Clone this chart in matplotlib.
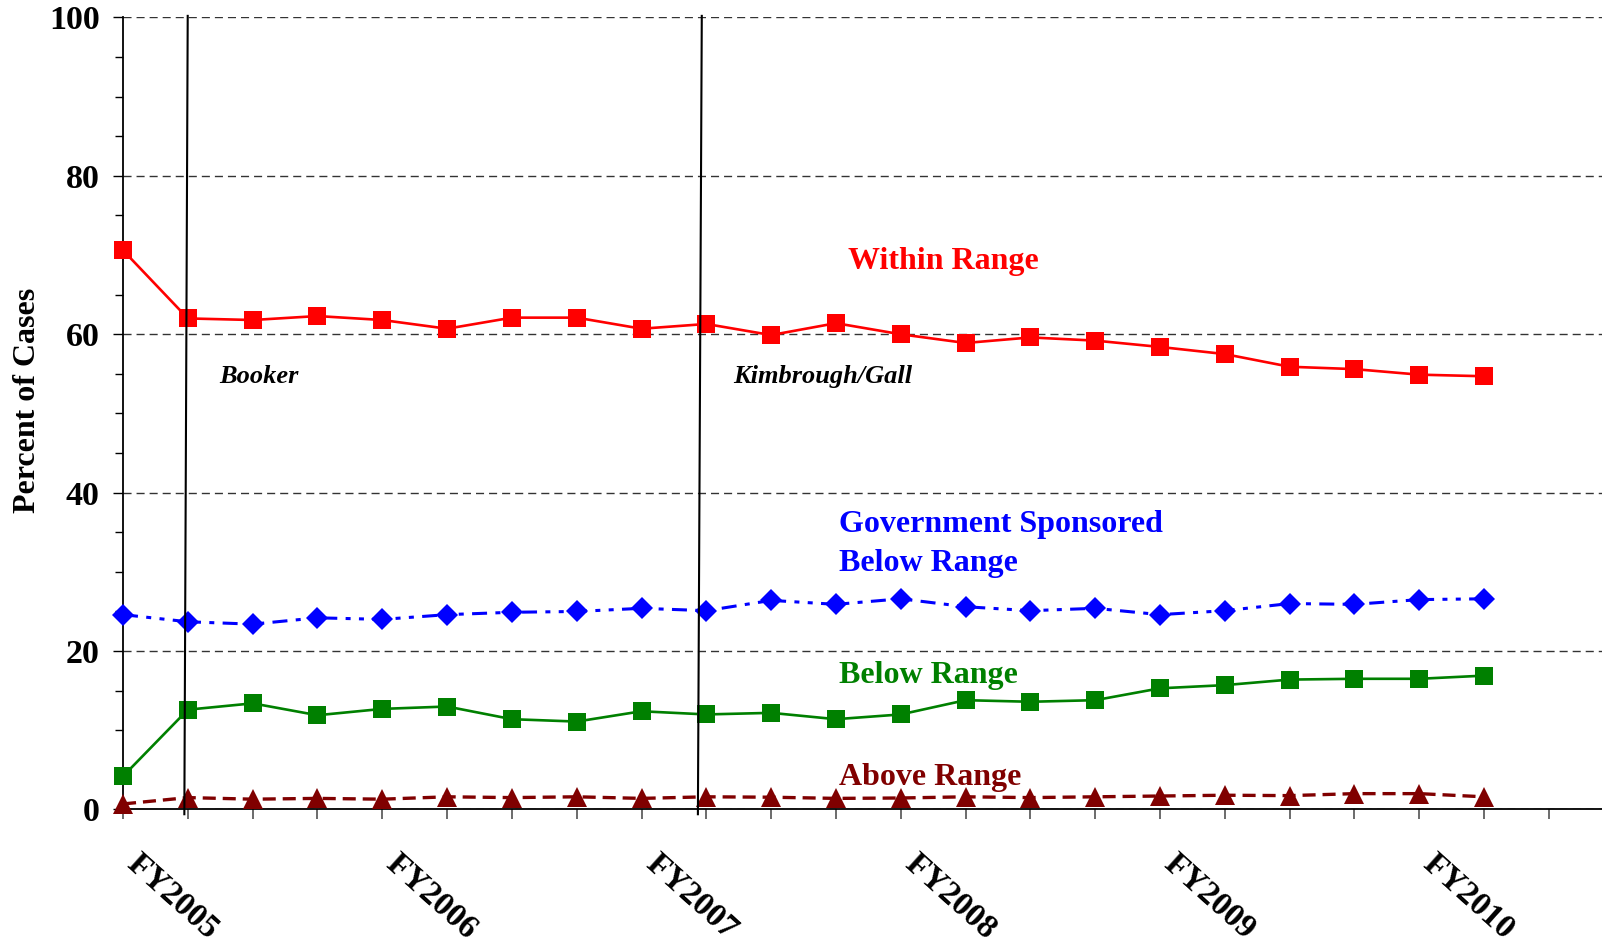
import matplotlib
matplotlib.use("Agg")
import matplotlib.pyplot as plt
import matplotlib.transforms as mtransforms
from matplotlib.ticker import MultipleLocator

# ---------------- data ----------------
tick_labels = ["FY2005", "", "", "", "FY2006", "", "", "", "FY2007", "", "", "",
               "FY2008", "", "", "", "FY2009", "", "", "", "FY2010", "", ""]
within_range = [70.6, 62.0, 61.8, 62.3, 61.8, 60.7, 62.1, 62.1, 60.7, 61.3, 59.9,
                61.4, 60.0, 58.9, 59.6, 59.2, 58.4, 57.5, 55.9, 55.6, 54.9, 54.7]
gov_below = [24.6, 23.7, 23.4, 24.2, 24.0, 24.6, 24.9, 25.0, 25.4, 25.1, 26.4,
             25.9, 26.6, 25.6, 25.1, 25.4, 24.6, 25.1, 26.0, 25.9, 26.5, 26.6]
below_range = [4.2, 12.6, 13.4, 11.9, 12.7, 13.0, 11.4, 11.1, 12.4, 12.0, 12.2,
               11.4, 12.0, 13.8, 13.6, 13.8, 15.3, 15.7, 16.4, 16.5, 16.5, 16.9]
above_range = [0.7, 1.5, 1.3, 1.4, 1.3, 1.6, 1.5, 1.6, 1.4, 1.6, 1.55,
               1.4, 1.45, 1.6, 1.5, 1.6, 1.7, 1.8, 1.75, 2.0, 2.0, 1.6]
event_names = ["Booker", "Kimbrough/Gall"]
event_x_top = [0.998, 8.93]
event_x_bottom = [0.946, 8.87]

x = list(range(len(within_range)))

plt.rcParams["font.family"] = ["Liberation Serif", "DejaVu Serif"]
plt.rcParams["lines.scale_dashes"] = False

fig = plt.figure(figsize=(16.02, 9.44), dpi=100)
ax = fig.add_axes([0.0768, 0.1425, 0.9232, 0.839])

# grid
ax.set_ylim(0, 100)
ax.set_xlim(0, 22.82)
ax.yaxis.set_major_locator(MultipleLocator(20))
ax.yaxis.set_minor_locator(MultipleLocator(5))
ax.grid(axis="y", which="major", color="#333333", linewidth=1.0,
        linestyle=(0, (5.8, 3.6)), zorder=0)
ax.set_axisbelow(True)

# series
ax.plot(x, within_range, color="#FF0000", lw=1.9, marker="s", ms=12.5,
        mew=0, zorder=5, clip_on=False)
ax.plot(x, gov_below, color="#0000FF", lw=2.2, marker="D", ms=11.3, mew=0,
        linestyle=(0, (10.8, 6, 3.6, 6, 3.6, 6)), zorder=5, clip_on=False)
ax.plot(x, below_range, color="#008000", lw=1.9, marker="s", ms=12.5,
        mew=0, zorder=5, clip_on=False)
ax.plot(x, above_range, color="#800000", lw=2.4, marker="^", ms=14, mew=0,
        linestyle=(0, (9.4, 5)), zorder=5, clip_on=False)

# event lines
for xt, xb in zip(event_x_top, event_x_bottom):
    ax.plot([xt, xb], [100.2, -0.6], color="black", lw=1.5, zorder=6,
            clip_on=False)

# text annotations
ax.text(1.48, 53.8, event_names[0], fontsize=19, fontweight="bold",
        fontstyle="italic", color="black", ha="left", va="baseline")
ax.text(9.42, 53.9, event_names[1], fontsize=19, fontweight="bold",
        fontstyle="italic", color="black", ha="left", va="baseline")
ax.text(11.19, 68.2, "Within Range", fontsize=23, fontweight="bold",
        color="#FF0000", ha="left", va="baseline")
ax.text(11.05, 35.0, "Government Sponsored", fontsize=23, fontweight="bold",
        color="#0000FF", ha="left", va="baseline")
ax.text(11.05, 30.1, "Below Range", fontsize=23, fontweight="bold",
        color="#0000FF", ha="left", va="baseline")
ax.text(11.05, 16.0, "Below Range", fontsize=23, fontweight="bold",
        color="#008000", ha="left", va="baseline")
ax.text(11.05, 3.1, "Above Range", fontsize=23, fontweight="bold",
        color="#800000", ha="left", va="baseline")

# spines
for s in ["top", "right"]:
    ax.spines[s].set_visible(False)
ax.spines["left"].set_linewidth(1.3)
ax.spines["bottom"].set_linewidth(1.3)

# y ticks
ax.tick_params(axis="y", which="major", direction="out", length=7.2, width=1,
               pad=9.5, labelsize=24.5)
ax.tick_params(axis="y", which="minor", direction="out", length=5.8, width=1)
for lab in ax.get_yticklabels():
    lab.set_fontweight("bold")
ax.set_ylabel("Percent of Cases", fontsize=23, fontweight="bold")
ax.yaxis.set_label_coords(-0.055, 0.517)

# x ticks
ax.set_xticks(range(len(tick_labels)))
ax.set_xticklabels(tick_labels, rotation=-42, ha="left", va="top",
                   fontweight="bold", fontsize=24)
ax.tick_params(axis="x", direction="out", length=7.2, width=1.1,
               color="#444444", pad=21)
offset = mtransforms.ScaledTranslation(-1.5 / 72, 0, fig.dpi_scale_trans)
for lab in ax.get_xticklabels():
    lab.set_transform(lab.get_transform() + offset)

fig.savefig("out.png", dpi=100)
